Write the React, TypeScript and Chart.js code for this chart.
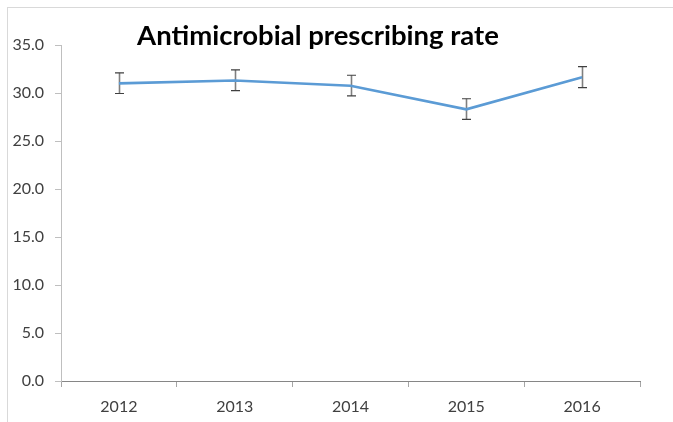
import React, { useEffect, useRef } from "react";
import { Chart, registerables } from "chart.js";

Chart.register(...registerables);

const categories = ["2012", "2013", "2014", "2015", "2016"];
const rateValues = [31.0, 31.3, 30.75, 28.3, 31.65];
const lowerValues = [29.95, 30.25, 29.7, 27.25, 30.55];
const upperValues = [32.1, 32.4, 31.85, 29.4, 32.75];
const titleText = "Antimicrobial prescribing rate";

const FONT = "Lato, 'Open Sans', 'DejaVu Sans', sans-serif";

const errorBarPlugin = {
  id: "errorBars",
  beforeDatasetsDraw(chart: any) {
    const ctx = chart.ctx;
    const xs = chart.scales.x;
    const ys = chart.scales.y;
    ctx.save();
    categories.forEach((_c, i) => {
      const px = Math.round(xs.getPixelForValue(i)) + 0.5;
      const top = ys.getPixelForValue(upperValues[i]);
      const bot = ys.getPixelForValue(lowerValues[i]);
      ctx.strokeStyle = "#7f7f7f";
      ctx.lineWidth = 1.6;
      ctx.beginPath();
      ctx.moveTo(px, top);
      ctx.lineTo(px, bot);
      ctx.stroke();
      ctx.strokeStyle = "#404040";
      ctx.lineWidth = 1.2;
      ctx.beginPath();
      ctx.moveTo(px - 4.5, top);
      ctx.lineTo(px + 4.5, top);
      ctx.moveTo(px - 4.5, bot);
      ctx.lineTo(px + 4.5, bot);
      ctx.stroke();
    });
    ctx.restore();
  },
};

export default function App() {
  const canvasRef = useRef<HTMLCanvasElement | null>(null);

  useEffect(() => {
    document.body.style.margin = "0";
    const canvas = canvasRef.current;
    if (!canvas) return;
    const chart = new Chart(canvas, {
      type: "line",
      data: {
        labels: categories,
        datasets: [
          {
            label: "Antimicrobial prescribing rate",
            data: rateValues,
            borderColor: "#5b9bd5",
            backgroundColor: "#5b9bd5",
            borderWidth: 2.6,
            pointRadius: 0,
            pointHoverRadius: 0,
            tension: 0,
            fill: false,
          },
        ],
      },
      options: {
        responsive: false,
        animation: false,
        events: [],
        layout: { padding: { top: 45, right: 33, left: 0, bottom: 0 } },
        plugins: {
          legend: { display: false },
          title: { display: false },
          tooltip: { enabled: false },
        },
        scales: {
          x: {
            type: "category",
            offset: true,
            afterFit: (scale: any) => {
              scale.height = 41;
            },
            grid: {
              offset: true,
              drawOnChartArea: false,
              drawTicks: true,
              tickLength: 6,
              color: "#a6a6a6",
            },
            border: { display: true, color: "#868686", width: 1 },
            ticks: {
              color: "#404040",
              font: { family: FONT, size: 16 },
              padding: 10,
              maxRotation: 0,
            },
          },
          y: {
            min: 0,
            max: 35,
            afterFit: (scale: any) => {
              scale.width = 61;
            },
            grid: {
              drawOnChartArea: false,
              drawTicks: true,
              tickLength: 6,
              color: "#bfbfbf",
            },
            border: { display: true, color: "#bfbfbf", width: 1 },
            ticks: {
              stepSize: 5,
              color: "#404040",
              font: { family: FONT, size: 16 },
              padding: 11,
              callback: (v: any) => Number(v).toFixed(1),
            },
          },
        },
      },
      plugins: [errorBarPlugin],
    });
    return () => chart.destroy();
  }, []);

  return (
    <div style={{ position: "relative", width: 673, height: 422, background: "#fff", overflow: "hidden" }}>
      <div
        style={{
          position: "absolute",
          left: 7,
          top: 7,
          right: -2,
          bottom: -2,
          borderTop: "1px solid #d9d9d9",
          borderLeft: "1px solid #d9d9d9",
        }}
      />
      <canvas ref={canvasRef} width={673} height={422} style={{ position: "absolute", left: 0, top: 0 }} />
      <div
        style={{
          position: "absolute",
          left: 0,
          width: 636,
          top: 20,
          textAlign: "center",
          fontFamily: FONT,
          fontWeight: 700,
          fontSize: 27.5,
          lineHeight: "30px",
          color: "#000",
          whiteSpace: "nowrap",
        }}
      >
        {titleText}
      </div>
    </div>
  );
}
